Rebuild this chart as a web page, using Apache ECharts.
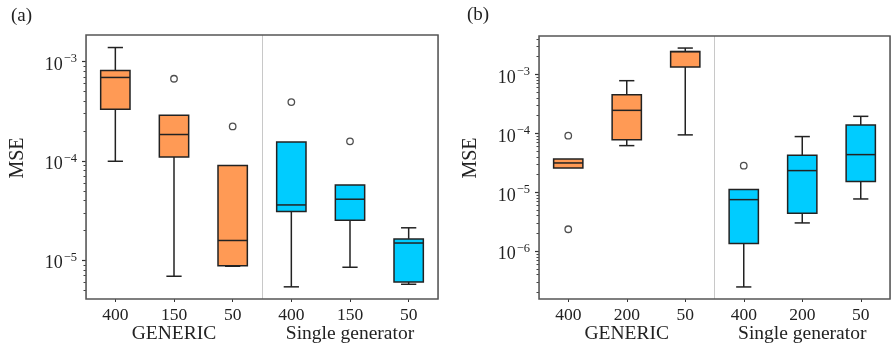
<!DOCTYPE html>
<html>
<head>
<meta charset="utf-8">
<script src="https://cdn.jsdelivr.net/npm/echarts@6/dist/echarts.min.js"></script>
<style>html,body{margin:0;padding:0;background:#fff}#c{width:892px;height:345px}</style>
</head>
<body>
<div id="c"></div>
<script>
// ---- data (raw MSE values) ----
var groups = ['GENERIC', 'Single generator'];
var catsA = ['400', '150', '50', '400', '150', '50'];
var catsB = ['400', '200', '50', '400', '200', '50'];
// [lower whisker, Q1, median, Q3, upper whisker]
var statsA = [
  [9.9e-5, 3.3e-4, 6.9e-4, 8.1e-4, 1.38e-3],
  [6.9e-6, 1.09e-4, 1.84e-4, 2.88e-4, 2.88e-4],
  [8.7e-6, 8.8e-6, 1.58e-5, 8.97e-5, 8.97e-5],
  [5.4e-6, 3.09e-5, 3.6e-5, 1.55e-4, 1.55e-4],
  [8.5e-6, 2.53e-5, 4.11e-5, 5.73e-5, 5.73e-5],
  [5.73e-6, 6.05e-6, 1.49e-5, 1.64e-5, 2.12e-5]
];
var statsB = [
  [2.58e-5, 2.58e-5, 3.14e-5, 3.67e-5, 3.67e-5],
  [6.18e-5, 7.8e-5, 2.45e-4, 4.52e-4, 7.8e-4],
  [9.4e-5, 1.33e-3, 2.42e-3, 2.45e-3, 2.79e-3],
  [2.48e-7, 1.35e-6, 7.5e-6, 1.11e-5, 1.11e-5],
  [3.02e-6, 4.4e-6, 2.33e-5, 4.24e-5, 8.8e-5],
  [7.7e-6, 1.53e-5, 4.35e-5, 1.38e-4, 1.94e-4]
];
// outliers: [category index, value]
var outliersA = [[1, 6.7e-4], [2, 2.22e-4], [3, 3.9e-4], [4, 1.57e-4]];
var outliersB = [[0, 9.1e-5], [0, 2.36e-6], [3, 2.83e-5]];
var decadesA = [-5, -4, -3];
var decadesB = [-6, -5, -4, -3];
var rangeA = [-5.39, -2.734];
var rangeB = [-6.81, -2.35];

// ---- helpers ----
var ORANGE = '#FF9A55', CYAN = '#00CCFF', INK = '#222';
var FONT = '"Liberation Serif", "DejaVu Serif", serif';
function lg(v) { return Math.log10(v); }
function minorVals(r) {
  var out = [];
  for (var n = -8; n <= -1; n++) for (var k = 2; k <= 9; k++) {
    var v = Math.log10(k) + n;
    if (v > r[0] && v < r[1]) out.push(v);
  }
  return out;
}
function boxData(stats) {
  return stats.map(function (s, i) { return [i].concat(s.map(lg)); });
}
function outData(o) { return o.map(function (p) { return [p[0], lg(p[1])]; }); }

function renderBox(params, api) {
  var i = api.value(0);
  var lo = api.coord([i, api.value(1)]), q1 = api.coord([i, api.value(2)]),
      md = api.coord([i, api.value(3)]), q3 = api.coord([i, api.value(4)]),
      hi = api.coord([i, api.value(5)]);
  var band = api.size([1, 0])[0];
  var bw = band * 0.5, cw = bw * 0.52;
  var x = lo[0];
  var color = i < 3 ? ORANGE : CYAN;
  var ls = { stroke: INK, lineWidth: 1.5 };
  var children = [];
  if (Math.abs(hi[1] - q3[1]) > 0.5) {
    children.push({ type: 'line', shape: { x1: x, y1: q3[1], x2: x, y2: hi[1] }, style: ls });
    children.push({ type: 'line', shape: { x1: x - cw / 2, y1: hi[1], x2: x + cw / 2, y2: hi[1] }, style: ls });
  }
  if (Math.abs(lo[1] - q1[1]) > 0.3) {
    children.push({ type: 'line', shape: { x1: x, y1: q1[1], x2: x, y2: lo[1] }, style: ls });
    children.push({ type: 'line', shape: { x1: x - cw / 2, y1: lo[1], x2: x + cw / 2, y2: lo[1] }, style: ls });
  }
  children.push({ type: 'rect', shape: { x: x - bw / 2, y: q3[1], width: bw, height: q1[1] - q3[1] },
    style: { fill: color, stroke: INK, lineWidth: 1.5 } });
  children.push({ type: 'line', shape: { x1: x - bw / 2, y1: md[1], x2: x + bw / 2, y2: md[1] }, style: ls });
  return { type: 'group', children: children };
}

function panelAxes(gi, cats, range, decades) {
  var xs = [
    { type: 'category', gridIndex: gi, data: cats, boundaryGap: true,
      axisLine: { show: false }, axisTick: { show: true, alignWithLabel: true, length: 3, lineStyle: { color: '#333', width: 1 } },
      axisLabel: { fontFamily: FONT, fontSize: 17.5, color: INK, margin: 7 }, splitLine: { show: false } },
    { type: 'category', gridIndex: gi, data: groups, position: 'bottom', offset: 19, boundaryGap: true,
      axisLine: { show: false }, axisTick: { show: false },
      axisLabel: { fontFamily: FONT, fontSize: 19.5, color: INK, margin: 6 },
      splitLine: { show: false } },
    { type: 'value', gridIndex: gi, min: 0, max: 2, interval: 1, position: 'top', show: true,
      axisLine: { show: false }, axisTick: { show: false }, axisLabel: { show: false },
      splitLine: { show: true, lineStyle: { color: '#c8c8c8', width: 1 } } }
  ];
  var ys = [
    { type: 'value', gridIndex: gi, min: range[0], max: range[1], position: 'left',
      axisLine: { show: false }, splitLine: { show: false },
      axisTick: { show: true, length: 4, customValues: decades, lineStyle: { color: '#333', width: 1.2 } },
      axisLabel: { customValues: decades, margin: 9, color: INK,
        formatter: function (v) { return '{b|10}{s|\u2212' + (-Math.round(v)) + '}'; },
        rich: { b: { fontFamily: FONT, fontSize: 18, color: INK, padding: [7, 0, 0, 0] },
                s: { fontFamily: FONT, fontSize: 12.5, color: INK, padding: [0, 0, 5, 1] } } } },
    { type: 'value', gridIndex: gi, min: range[0], max: range[1], position: 'left', offset: 0,
      axisLine: { show: false }, splitLine: { show: false }, axisLabel: { show: false },
      axisTick: { show: true, length: 2.5, customValues: minorVals(range), lineStyle: { color: '#444', width: 1 } } }
  ];
  return { x: xs, y: ys };
}

var pa = panelAxes(0, catsA, rangeA, decadesA);
var pb = panelAxes(1, catsB, rangeB, decadesB);

var option = {
  animation: false,
  backgroundColor: '#fff',
  grid: [
    { left: 86, top: 35, width: 352, height: 264, show: true, borderColor: '#555', borderWidth: 1.5, backgroundColor: 'transparent', z: 5 },
    { left: 539, top: 36, width: 351, height: 263, show: true, borderColor: '#555', borderWidth: 1.5, backgroundColor: 'transparent', z: 5 }
  ],
  xAxis: pa.x.concat(pb.x),
  yAxis: pa.y.concat(pb.y),
  series: [
    { type: 'custom', xAxisIndex: 0, yAxisIndex: 0, renderItem: renderBox, data: boxData(statsA),
      encode: { x: 0, y: [1, 2, 3, 4, 5] }, z: 3 },
    { type: 'scatter', xAxisIndex: 0, yAxisIndex: 0, data: outData(outliersA), symbol: 'circle', symbolSize: 6.5,
      itemStyle: { color: '#fff', borderColor: INK, borderWidth: 1.3 }, z: 4 },
    { type: 'custom', xAxisIndex: 3, yAxisIndex: 2, renderItem: renderBox, data: boxData(statsB),
      encode: { x: 0, y: [1, 2, 3, 4, 5] }, z: 3 },
    { type: 'scatter', xAxisIndex: 3, yAxisIndex: 2, data: outData(outliersB), symbol: 'circle', symbolSize: 6.5,
      itemStyle: { color: '#fff', borderColor: INK, borderWidth: 1.3 }, z: 4 }
  ],
  graphic: [
    { type: 'text', left: 11, top: 7, style: { text: '(a)', font: '19px ' + FONT, fill: INK } },
    { type: 'text', left: 467, top: 6, style: { text: '(b)', font: '19px ' + FONT, fill: INK } },
    { type: 'text', x: 17.5, y: 158, rotation: Math.PI / 2,
      style: { text: 'MSE', font: '20px ' + FONT, fill: INK, align: 'center', verticalAlign: 'middle' } },
    { type: 'text', x: 471, y: 158, rotation: Math.PI / 2,
      style: { text: 'MSE', font: '20px ' + FONT, fill: INK, align: 'center', verticalAlign: 'middle' } }
  ]
};
var chart = echarts.init(document.getElementById('c'), null, { renderer: 'canvas' });
chart.setOption(option);
</script>
</body>
</html>
